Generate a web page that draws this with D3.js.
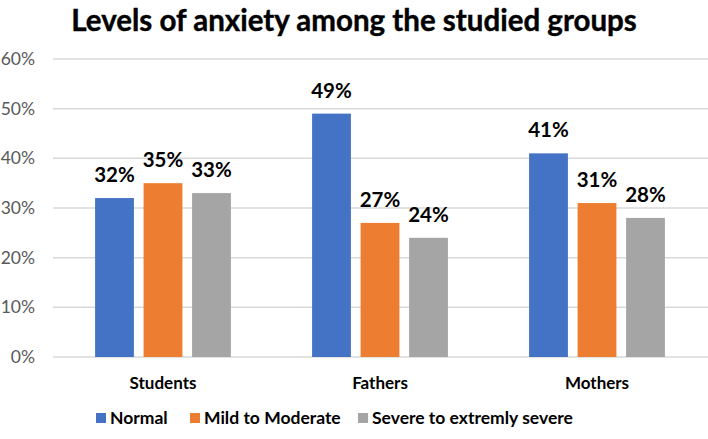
<!DOCTYPE html>
<html>
<head>
<meta charset="utf-8">
<script src="https://cdn.jsdelivr.net/npm/d3@7"></script>
<style>
  html, body { margin: 0; padding: 0; background: #fff; }
  svg { display: block; }
</style>
</head>
<body>
<svg id="chart" width="708" height="439"></svg>
<script>
const categories = ["Students", "Fathers", "Mothers"];
const seriesNames = ["Normal", "Mild to Moderate", "Severe to extremly severe"];
const normalValues = [32, 49, 41];
const mildValues = [35, 27, 31];
const severeValues = [33, 24, 28];
const yTicks = [0, 10, 20, 30, 40, 50, 60];
const colors = ["#4472C4", "#ED7D31", "#A5A5A5"];
const titleText = "Levels of anxiety among the studied groups";

const seriesValues = [normalValues, mildValues, severeValues];
const data = categories.map((c, i) => ({
  category: c,
  values: seriesNames.map((s, j) => ({ series: s, value: seriesValues[j][i], idx: j }))
}));

const svg = d3.select("#chart");
const font = "Lato, 'Open Sans', sans-serif";

const x0 = d3.scaleBand().domain(categories).range([54.5, 705.5]).paddingInner(0).paddingOuter(0);
const x1 = d3.scaleBand().domain(seriesNames).range([0, x0.bandwidth()]).paddingInner(0.2).paddingOuter(0.837);
const y = d3.scaleLinear().domain([0, 60]).range([357, 59]);

// title
svg.append("text")
  .attr("x", 354).attr("y", 31)
  .attr("text-anchor", "middle")
  .attr("font-family", font).attr("font-weight", 700)
  .attr("font-size", 29.5).attr("fill", "#000")
  .attr("stroke", "#000").attr("stroke-width", 0.4)
  .text(titleText);

// gridlines
svg.append("g").selectAll("line").data(yTicks).join("line")
  .attr("x1", 53).attr("x2", 708)
  .attr("y1", d => y(d)).attr("y2", d => y(d))
  .attr("stroke", "#D9D9D9").attr("stroke-width", 1.5);

// y axis labels
const yAxis = d3.axisLeft(y).tickValues(yTicks).tickFormat(d => d + "%").tickSize(0).tickPadding(0);
const yg = svg.append("g").attr("transform", "translate(35,0)").call(yAxis);
yg.select(".domain").remove();
yg.selectAll("text")
  .attr("font-family", font).attr("font-size", 17.5).attr("fill", "#595959");

// bars
const groups = svg.append("g").selectAll("g").data(data).join("g")
  .attr("transform", d => `translate(${x0(d.category)},0)`);
groups.selectAll("rect").data(d => d.values).join("rect")
  .attr("x", d => x1(d.series))
  .attr("width", x1.bandwidth())
  .attr("y", d => y(d.value))
  .attr("height", d => y(0) - y(d.value))
  .attr("fill", d => colors[d.idx]);
groups.selectAll("text").data(d => d.values).join("text")
  .attr("x", d => x1(d.series) + x1.bandwidth() / 2)
  .attr("y", d => y(d.value) - 16)
  .attr("text-anchor", "middle")
  .attr("font-family", font).attr("font-weight", 700)
  .attr("font-size", 20.5).attr("fill", "#000")
  .text(d => d.value + "%");

// x axis labels
const xAxis = d3.axisBottom(x0).tickSize(0).tickPadding(0);
const xg = svg.append("g").attr("transform", "translate(0,377)").call(xAxis);
xg.select(".domain").remove();
xg.selectAll("text")
  .attr("font-family", font).attr("font-weight", 700)
  .attr("font-size", 17).attr("fill", "#000")
  .attr("dy", "0.71em");

// legend
const legendX = [96, 190, 358];
const lg = svg.append("g").selectAll("g").data(seriesNames).join("g")
  .attr("transform", (d, i) => `translate(${legendX[i]},413)`);
lg.append("rect").attr("width", 10).attr("height", 10).attr("y", 0)
  .attr("fill", (d, i) => colors[i]);
lg.append("text").attr("x", 14).attr("y", 5).attr("dy", "0.35em")
  .attr("font-family", font).attr("font-weight", 700)
  .attr("font-size", 17.5).attr("fill", "#000")
  .text(d => d);
</script>
</body>
</html>
